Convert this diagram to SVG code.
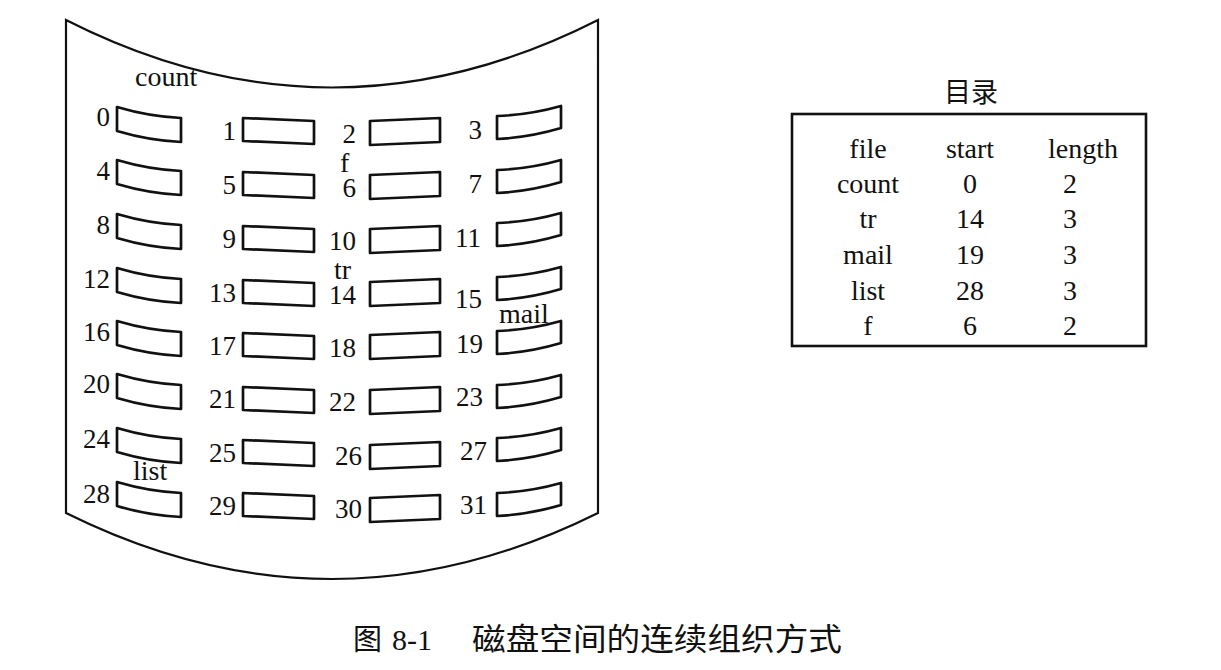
<svg xmlns="http://www.w3.org/2000/svg" xmlns:xlink="http://www.w3.org/1999/xlink" width="1221" height="670" viewBox="0 0 1221 670">
<style>
.blk{fill:none;stroke:#111;stroke-width:2.7;stroke-linejoin:round}
.num{font-family:"Liberation Serif",serif;font-size:27px;fill:#111;text-anchor:end}
.lbl{font-family:"Liberation Serif",serif;font-size:28px;fill:#111}
.tb{font-family:"Liberation Serif",serif;font-size:28px;fill:#111;text-anchor:middle}
.cjk{font-family:"Liberation Serif","Noto Sans CJK SC",sans-serif;fill:#111}
</style>
<defs>
<path id="b1" d="M0,0 Q32,9.5 64,11 L64,35 Q32,33.5 0,24 Z"/>
<path id="b2" d="M0,0 L71,3 L71,26 L0,23 Z"/>
<path id="b3" d="M0,0 L70,-3 L70,21 L0,24 Z"/>
<path id="b4" d="M0,0 Q32,-1 64,-10 L64,12 Q32,21.5 0,23 Z"/>
</defs>
<rect width="1221" height="670" fill="#fff"/>
<g id="disk">
<path d="M66,20 Q332,155 598,20 L598,513 Q332,645 66,513 Z" fill="none" stroke="#111" stroke-width="2.2"/>
</g>
<g id="blocks">
<g id="blk0"><use xlink:href="#b1" class="blk" x="117" y="107"/><text class="num" x="110" y="126">0</text></g>
<g id="blk4"><use xlink:href="#b1" class="blk" x="117" y="160"/><text class="num" x="110" y="180">4</text></g>
<g id="blk8"><use xlink:href="#b1" class="blk" x="117" y="214"/><text class="num" x="110" y="234">8</text></g>
<g id="blk12"><use xlink:href="#b1" class="blk" x="117" y="268"/><text class="num" x="110" y="288">12</text></g>
<g id="blk16"><use xlink:href="#b1" class="blk" x="117" y="321"/><text class="num" x="110" y="341">16</text></g>
<g id="blk20"><use xlink:href="#b1" class="blk" x="117" y="374"/><text class="num" x="110" y="393">20</text></g>
<g id="blk24"><use xlink:href="#b1" class="blk" x="117" y="428"/><text class="num" x="110" y="448">24</text></g>
<g id="blk28"><use xlink:href="#b1" class="blk" x="117" y="482"/><text class="num" x="110" y="503">28</text></g>

<g id="blk1"><use xlink:href="#b2" class="blk" x="243" y="118"/><text class="num" x="236" y="140">1</text></g>
<g id="blk5"><use xlink:href="#b2" class="blk" x="243" y="172"/><text class="num" x="236" y="194">5</text></g>
<g id="blk9"><use xlink:href="#b2" class="blk" x="243" y="226"/><text class="num" x="236" y="248">9</text></g>
<g id="blk13"><use xlink:href="#b2" class="blk" x="243" y="280"/><text class="num" x="236" y="302">13</text></g>
<g id="blk17"><use xlink:href="#b2" class="blk" x="243" y="333"/><text class="num" x="236" y="355">17</text></g>
<g id="blk21"><use xlink:href="#b2" class="blk" x="243" y="387"/><text class="num" x="236" y="408">21</text></g>
<g id="blk25"><use xlink:href="#b2" class="blk" x="243" y="440"/><text class="num" x="236" y="462">25</text></g>
<g id="blk29"><use xlink:href="#b2" class="blk" x="243" y="493"/><text class="num" x="236" y="515">29</text></g>

<g id="blk2"><use xlink:href="#b3" class="blk" x="370" y="121"/><text class="num" x="356" y="143">2</text></g>
<g id="blk6"><use xlink:href="#b3" class="blk" x="370" y="175"/><text class="num" x="356" y="197">6</text></g>
<g id="blk10"><use xlink:href="#b3" class="blk" x="370" y="229"/><text class="num" x="356" y="250">10</text></g>
<g id="blk14"><use xlink:href="#b3" class="blk" x="370" y="282"/><text class="num" x="356" y="304">14</text></g>
<g id="blk18"><use xlink:href="#b3" class="blk" x="370" y="335"/><text class="num" x="356" y="357">18</text></g>
<g id="blk22"><use xlink:href="#b3" class="blk" x="370" y="390"/><text class="num" x="356" y="411">22</text></g>
<g id="blk26"><use xlink:href="#b3" class="blk" x="370" y="445"/><text class="num" x="362" y="465">26</text></g>
<g id="blk30"><use xlink:href="#b3" class="blk" x="370" y="498"/><text class="num" x="362" y="518">30</text></g>

<g id="blk3"><use xlink:href="#b4" class="blk" x="497" y="116"/><text class="num" x="482" y="139">3</text></g>
<g id="blk7"><use xlink:href="#b4" class="blk" x="497" y="170"/><text class="num" x="482" y="193">7</text></g>
<g id="blk11"><use xlink:href="#b4" class="blk" x="497" y="223"/><text class="num" x="481" y="247">11</text></g>
<g id="blk15"><use xlink:href="#b4" class="blk" x="497" y="277"/><text class="num" x="482" y="308">15</text></g>
<g id="blk19"><use xlink:href="#b4" class="blk" x="497" y="331"/><text class="num" x="483" y="353">19</text></g>
<g id="blk23"><use xlink:href="#b4" class="blk" x="497" y="385"/><text class="num" x="483" y="406">23</text></g>
<g id="blk27"><use xlink:href="#b4" class="blk" x="497" y="438"/><text class="num" x="487" y="460">27</text></g>
<g id="blk31"><use xlink:href="#b4" class="blk" x="497" y="493"/><text class="num" x="487" y="514">31</text></g>
</g>
<g id="file-labels">
<text class="lbl" x="135" y="86">count</text>
<text class="lbl" x="340" y="172">f</text>
<text class="lbl" x="334" y="279" font-size="26">tr</text>
<text class="lbl" x="499" y="323">mail</text>
<text class="lbl" x="133" y="480">list</text>
</g>
<g id="directory">
<text class="cjk" x="971" y="102" font-size="27" text-anchor="middle">目录</text>
<rect x="792" y="114" width="354" height="232" fill="none" stroke="#111" stroke-width="2.6"/>
<text class="tb" x="868" y="158">file</text>
<text class="tb" x="970" y="158">start</text>
<text class="tb" x="1083" y="158">length</text>
<text class="tb" x="868" y="193">count</text>
<text class="tb" x="970" y="193">0</text>
<text class="tb" x="1070" y="193">2</text>
<text class="tb" x="868" y="228">tr</text>
<text class="tb" x="970" y="228">14</text>
<text class="tb" x="1070" y="228">3</text>
<text class="tb" x="868" y="264">mail</text>
<text class="tb" x="970" y="264">19</text>
<text class="tb" x="1070" y="264">3</text>
<text class="tb" x="868" y="300">list</text>
<text class="tb" x="970" y="300">28</text>
<text class="tb" x="1070" y="300">3</text>
<text class="tb" x="868" y="335">f</text>
<text class="tb" x="970" y="335">6</text>
<text class="tb" x="1070" y="335">2</text>
</g>
<g id="caption">
<text class="cjk" x="353" y="650" font-size="29">图</text>
<text class="cjk" x="392" y="650" font-size="30">8-1</text>
<text class="cjk" x="472" y="650" font-size="31" textLength="370" lengthAdjust="spacingAndGlyphs">磁盘空间的连续组织方式</text>
</g>
</svg>
